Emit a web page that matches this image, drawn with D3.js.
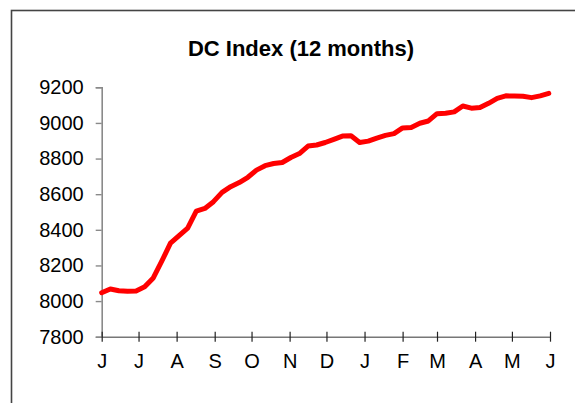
<!DOCTYPE html>
<html>
<head>
<meta charset="utf-8">
<script src="https://cdn.jsdelivr.net/npm/d3@7"></script>
<style>
  html, body { margin: 0; padding: 0; background: #fff; }
  svg { display: block; }
</style>
</head>
<body>
<svg id="chart" width="575" height="403"></svg>
<script>
const title = "DC Index (12 months)";
const dates = [
  "2006-06-01","2006-06-08","2006-06-15","2006-06-22","2006-06-29",
  "2006-07-06","2006-07-13","2006-07-20","2006-07-27","2006-08-03",
  "2006-08-10","2006-08-17","2006-08-24","2006-08-31","2006-09-07",
  "2006-09-14","2006-09-21","2006-09-28","2006-10-05","2006-10-12",
  "2006-10-19","2006-10-26","2006-11-02","2006-11-09","2006-11-16",
  "2006-11-23","2006-11-30","2006-12-07","2006-12-14","2006-12-21",
  "2006-12-28","2007-01-04","2007-01-11","2007-01-18","2007-01-25",
  "2007-02-01","2007-02-08","2007-02-15","2007-02-22","2007-03-01",
  "2007-03-08","2007-03-15","2007-03-22","2007-03-29","2007-04-05",
  "2007-04-12","2007-04-19","2007-04-26","2007-05-03","2007-05-10",
  "2007-05-17","2007-05-24","2007-05-31"
];
const values = [
  8047, 8068, 8058, 8055, 8057,
  8080, 8130, 8225, 8325, 8368,
  8410, 8505, 8520, 8558, 8610,
  8642, 8665, 8695, 8735, 8760,
  8772, 8778, 8806, 8828, 8870,
  8876, 8890, 8908, 8926, 8928,
  8890, 8898, 8915, 8930, 8940,
  8972, 8975, 8998, 9011, 9052,
  9054, 9062, 9095, 9083, 9086,
  9110, 9138, 9152, 9151, 9150,
  9142, 9152, 9166
];
const yTicks = [7800, 8000, 8200, 8400, 8600, 8800, 9000, 9200];
const monthLabels = ["J","J","A","S","O","N","D","J","F","M","A","M","J"];
const xStart = "2006-06-01", xEnd = "2007-06-01";

const parse = d3.timeParse("%Y-%m-%d");
const data = dates.map((d, i) => ({ date: parse(d), value: values[i] }));

const svg = d3.select("#chart");
const font = "'Liberation Sans', Arial, sans-serif";

// outer chart border
svg.append("rect")
  .attr("x", 11.5).attr("y", 10.5)
  .attr("width", 600).attr("height", 420)
  .attr("fill", "none").attr("stroke", "#444").attr("stroke-width", 1.6);

const x = d3.scaleTime().domain([parse(xStart), parse(xEnd)]).range([101.7, 550]);
const y = d3.scaleLinear().domain([7800, 9200]).range([336.7, 87.3]);

// title
svg.append("text")
  .attr("x", 301).attr("y", 55.5)
  .attr("text-anchor", "middle")
  .attr("font-family", font).attr("font-weight", "bold")
  .attr("font-size", 22).attr("fill", "#000")
  .text(title);

// y axis
const yAxis = svg.append("g")
  .attr("transform", `translate(${x.range()[0]},0)`)
  .call(d3.axisLeft(y).tickValues(yTicks).tickSize(6).tickPadding(12).tickFormat(d3.format("d")));
yAxis.select(".domain").attr("stroke", "#8a8a8a").attr("stroke-width", 1.6);
yAxis.selectAll(".tick line").attr("stroke", "#8a8a8a").attr("stroke-width", 1.4);
yAxis.selectAll(".tick text")
  .attr("font-family", font).attr("font-size", 20).attr("fill", "#000");

// x axis
const monthTicks = d3.timeMonth.range(parse(xStart), d3.timeDay.offset(parse(xEnd), 1));
const xAxis = svg.append("g")
  .attr("transform", `translate(0,${y(7800)})`)
  .call(d3.axisBottom(x).tickValues(monthTicks).tickSizeInner(5).tickSizeOuter(0)
        .tickPadding(12).tickFormat((d, i) => monthLabels[i]));
xAxis.select(".domain").attr("stroke", "#777").attr("stroke-width", 1.6);
xAxis.selectAll(".tick line")
  .attr("y1", -5).attr("y2", 5)
  .attr("stroke", "#222").attr("stroke-width", 1.2);
xAxis.selectAll(".tick text")
  .attr("font-family", font).attr("font-size", 20).attr("fill", "#000");

// line
const line = d3.line().x(d => x(d.date)).y(d => y(d.value));
svg.append("path")
  .datum(data)
  .attr("d", line)
  .attr("fill", "none")
  .attr("stroke", "#ff0000")
  .attr("stroke-width", 5)
  .attr("stroke-linejoin", "round")
  .attr("stroke-linecap", "round");
</script>
</body>
</html>
